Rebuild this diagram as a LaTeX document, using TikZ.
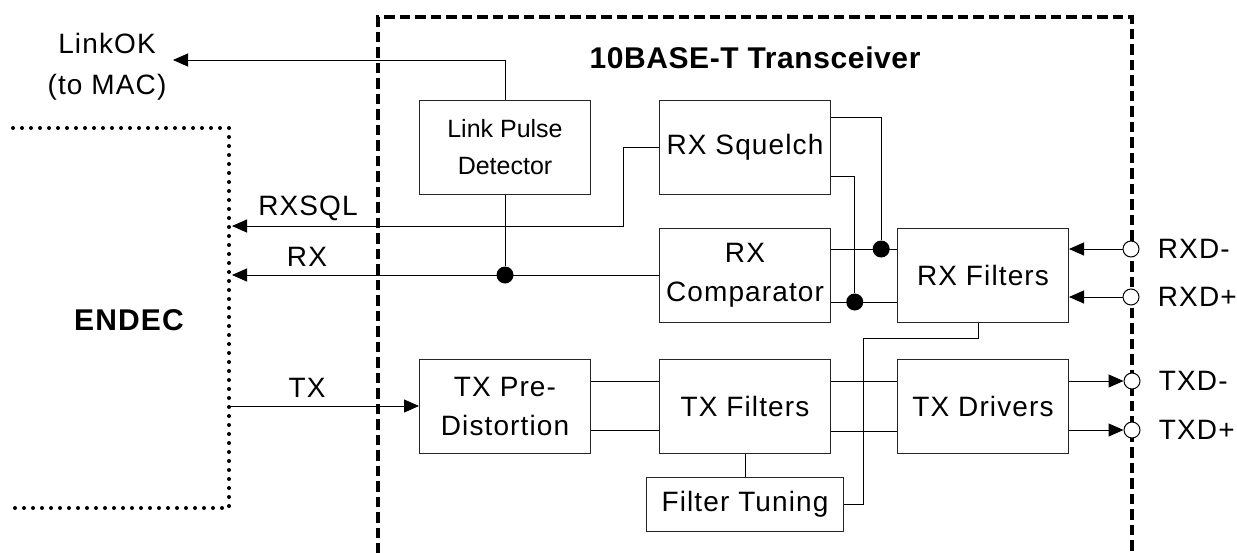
\documentclass[tikz,border=0pt]{standalone}
\usepackage{fontspec}
\setmainfont{Liberation Sans}[LetterSpace=4]
\newfontfamily\narrowfont{Liberation Sans}
\newfontfamily\titlefont{Liberation Sans}[LetterSpace=2]
\usetikzlibrary{arrows.meta,positioning,calc}

\begin{document}
\begin{tikzpicture}[
 x=0.5pt,y=-0.5pt,
 node distance=16.5pt and 34pt,
 wire/.style={line width=0.5pt},
 sig/.style={wire,-{Triangle[length=7.5pt,width=6.5pt]}},
 blk/.style={draw=black!85,line width=0.5pt,minimum width=85.5pt,minimum height=47pt,inner sep=0pt,align=center,font=\fontsize{14pt}{19.5pt}\selectfont},
 lbl/.style={inner sep=0pt,align=center,font=\fontsize{14pt}{20.5pt}\selectfont},
 dot/.style={circle,fill=black,inner sep=0pt,minimum size=8.5pt},
 port/.style={circle,draw=black,fill=white,line width=0.5pt,inner sep=0pt,minimum size=8pt},
 dotline/.style={line width=2pt,line cap=round,dash pattern=on 0pt off 4.5pt},
 dashline/.style={line width=1.75pt,dash pattern=on 5.25pt off 2.5pt},
]
\useasboundingbox (0,0) rectangle (1237,552);

\coordinate (endecr) at (229,128);
\coordinate (endecb) at (229,508);
\coordinate (edge) at (232,0);
\draw[dotline] (13,128) -- (endecr) -- (endecb) -- (13,508);
\draw[dashline] (378,600) -- (378,17) -- (1132,17) -- (1132,600);

\node[lbl,font=\fontsize{15pt}{18pt}\titlefont\bfseries] (title) at (755,58) {10BASE-T Transceiver};
\node[lbl,font=\fontsize{15pt}{18pt}\selectfont\bfseries] (endec) at (129,320) {ENDEC};
\node[lbl] (lok) at (107,67) {LinkOK\\(to MAC)};

\node[blk,font=\fontsize{12.5pt}{18.5pt}\narrowfont] (lpd) at (505,147) {Link Pulse\\Detector};
\node[blk,right=of lpd] (sq) {RX Squelch};
\node[blk,below=of sq] (cmp) {RX\\Comparator};
\node[blk,right=33pt of cmp] (rxf) {RX Filters};
\node[blk] (pre) at (505,406) {TX Pre-\\Distortion};
\node[blk,right=of pre] (txf) {TX Filters};
\node[blk,right=33pt of txf] (drv) {TX Drivers};
\node[blk,below=11.5pt of txf,minimum width=98.5pt,minimum height=27pt] (tun) {Filter Tuning};

\coordinate (lokend) at (173,60);
\coordinate (sqlend) at (232,226);
\draw[sig] (lpd.north) |- (lokend);
\draw[sig] (sq.west) -- ++(-36,0) |- (sqlend);
\draw[sig] (cmp.west) -- (cmp.west -| edge);
\node[dot] (d0) at (lpd.south |- cmp.west) {};
\draw[wire] (lpd.south) -- (d0);
\node[lbl] (rxsql) at (308,208) {RXSQL};
\node[lbl] (rx) at (307,257) {RX};

\draw[wire] ($(cmp.east)+(0,-26)$) coordinate (c1) -- ($(rxf.west)+(0,-26)$) coordinate (f1);
\draw[wire] ($(cmp.east)+(0,27)$) coordinate (c2) -- ($(rxf.west)+(0,27)$) coordinate (f2);
\node[dot] (d1) at ($(c1)!.76!(f1)$) {};
\node[dot] (d2) at ($(c2)!.36!(f2)$) {};
\draw[wire] ($(sq.east)+(0,-30)$) -| (d1);
\draw[wire] ($(sq.east)+(0,29)$) -| (d2);

\node[port] (rxdm) at (1131,249) {};
\node[port] (rxdp) at (1131,297) {};
\node[port] (txdm) at (1132,381) {};
\node[port] (txdp) at (1132,430) {};
\draw[sig] (rxdm) -- (rxdm -| rxf.east);
\draw[sig] (rxdp) -- (rxdp -| rxf.east);
\draw[sig] ($(drv.east)+(0,-25)$) -- (txdm);
\draw[sig] ($(drv.east)+(0,24)$) -- (txdp);
\node[lbl,right=9pt of rxdm] {RXD-};
\node[lbl,right=9pt of rxdp] {RXD+};
\node[lbl,right=9pt of txdm] {TXD-};
\node[lbl,right=9pt of txdp] {TXD+};

\draw[sig] (pre.west -| endecr) -- (pre.west);
\node[lbl] (tx) at (307,388) {TX};
\draw[wire] ($(pre.east)+(0,-25)$) -- ($(txf.west)+(0,-25)$);
\draw[wire] ($(pre.east)+(0,24)$) -- ($(txf.west)+(0,24)$);
\draw[wire] ($(txf.east)+(0,-25)$) -- ($(drv.west)+(0,-25)$);
\draw[wire] ($(txf.east)+(0,25)$) -- ($(drv.west)+(0,25)$);
\draw[wire] (txf.south) -- (tun.north);
\draw[wire] (tun.east) -- ++(19,0) |- ($(rxf.south)+(-5,16)$) -- ++(0,-16);
\end{tikzpicture}
\end{document}
